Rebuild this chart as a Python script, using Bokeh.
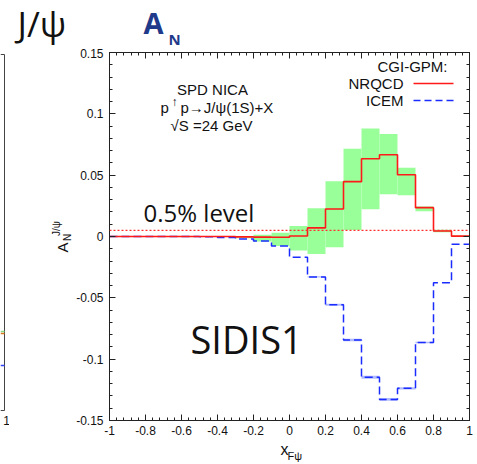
from bokeh.plotting import figure
from bokeh.models import (Range1d, LinearAxis, FixedTicker, CustomJSTickFormatter,
                          Label, Span)
from bokeh.layouts import column, row
from bokeh.embed import file_html
from bokeh.resources import INLINE

# ---------------- data ----------------
bin_edges = [-1.0, -0.9, -0.8, -0.7, -0.6, -0.5, -0.4, -0.3, -0.2, -0.1, 0.0,
             0.1, 0.2, 0.3, 0.4, 0.5, 0.6, 0.7, 0.8, 0.9, 1.0]
nrqcd = [0.0, 0.0, 0.0, 0.0, 0.0, 0.0, 0.0, -0.0003, -0.0005, -0.0006, 0.0004,
         0.007, 0.0224, 0.0447, 0.0634, 0.0667, 0.0504, 0.0235, 0.0045, 0.0003]
nrqcd_lo = [0.0, 0.0, 0.0, 0.0, 0.0, 0.0, 0.0, -0.0015, -0.004, -0.0077, -0.0114,
            -0.0143, -0.0088, 0.0053, 0.0222, 0.0344, 0.0336, 0.0205, 0.0035, -0.0002]
nrqcd_hi = [0.0, 0.0, 0.0, 0.0, 0.0, 0.0, 0.0, 0.0005, 0.0015, 0.003, 0.0086,
            0.023, 0.045, 0.0716, 0.088, 0.0836, 0.056, 0.0245, 0.0055, 0.0008]
icem = [0.0, 0.0, 0.0, 0.0, 0.0, -0.0003, -0.0008, -0.002, -0.0037, -0.0077, -0.017,
        -0.033, -0.0556, -0.0844, -0.1148, -0.1328, -0.1238, -0.0864, -0.0377, -0.0064]
icem_err = [0.0, 0.0, 0.0, 0.0, 0.0, 0.0, 0.0, 0.0, 0.0, 0.0, 0.0,
            0.0005, 0.0008, 0.001, 0.0012, 0.0012, 0.001, 0.0006, 0.0, 0.0]
level = 0.005
x_ticks = [-1, -0.8, -0.6, -0.4, -0.2, 0, 0.2, 0.4, 0.6, 0.8, 1]
y_ticks = [-0.15, -0.1, -0.05, 0, 0.05, 0.1, 0.15]

# ---------------- layout geometry (page pixels) ----------------
W, H = 477, 464
TOP_H, BOT_H, LEFT_W = 48, 22, 9
FL, FT, FR, FB = 109, 52, 469, 420   # frame edges on the page
MAIN_H = H - TOP_H - BOT_H

def px(xp):
    return (xp - FL) / (FR - FL) * 2.0 - 1.0

def py(yp):
    return 0.15 - (yp - FT) / (FB - FT) * 0.3

def blank_fig(width, height, x0, x1, y0, y1):
    f = figure(frame_width=width, frame_height=height, x_range=Range1d(x0, x1),
               y_range=Range1d(y1, y0), output_backend="svg", toolbar_location=None,
               x_axis_type=None, y_axis_type=None, min_border=0, title=None)
    f.grid.visible = False
    f.outline_line_color = None
    return f

def lab(fig, text, x, y, size, font="Liberation Sans", align="left",
        color="#111111", style="normal", angle=0, place="center"):
    # y is the vertical centre of the text
    fig.add_layout(Label(x=x, y=y, text=text, text_font=font,
                         text_font_size=f"{size}px", text_align=align,
                         text_baseline="middle", text_color=color,
                         text_font_style=style, angle=angle), place)

# ---------------- main plot ----------------
p = figure(width=W - LEFT_W, height=MAIN_H, x_range=Range1d(-1, 1),
           y_range=Range1d(-0.15, 0.15), output_backend="svg", toolbar_location=None,
           min_border_left=FL - LEFT_W, min_border_right=W - FR,
           min_border_top=FT - TOP_H, min_border_bottom=H - BOT_H - FB, title=None)
p.grid.visible = False
p.outline_line_color = "#222222"

fmt = CustomJSTickFormatter(code="return String(Math.round(tick*100)/100);")
blank = CustomJSTickFormatter(code="return '';")
x_minor = [round(-1 + 0.04 * i, 2) for i in range(51)]
y_minor = [round(-0.15 + 0.01 * i, 2) for i in range(31)]
xt = FixedTicker(ticks=x_ticks, minor_ticks=x_minor)
yt = FixedTicker(ticks=y_ticks, minor_ticks=y_minor)

def style_axis(ax, show_labels):
    ax.major_tick_in = 6
    ax.major_tick_out = 0
    ax.minor_tick_in = 3
    ax.minor_tick_out = 0
    ax.axis_line_color = "#222222"
    ax.major_tick_line_color = "#222222"
    ax.minor_tick_line_color = "#222222"
    ax.major_label_text_font = "Liberation Sans"
    ax.major_label_text_font_size = "12px"
    if show_labels:
        ax.major_label_text_color = "#111111"
        ax.major_label_standoff = 6
        ax.formatter = fmt
    else:
        ax.major_label_text_color = None
        ax.major_label_standoff = 0
        ax.formatter = blank

p.xaxis.ticker = xt
p.yaxis.ticker = yt
style_axis(p.xaxis[0], True)
style_axis(p.yaxis[0], True)
p.xaxis.major_label_standoff = 5
ax_top = LinearAxis(ticker=xt)
style_axis(ax_top, False)
p.add_layout(ax_top, "above")
ax_right = LinearAxis(ticker=yt)
style_axis(ax_right, False)
p.add_layout(ax_right, "right")

left = bin_edges[:-1]
right = bin_edges[1:]
p.quad(left=left, right=right, bottom=nrqcd_lo, top=nrqcd_hi,
       fill_color="#99ff99", line_color=None)
p.quad(left=left, right=right,
       bottom=[v - e for v, e in zip(icem, icem_err)],
       top=[v + e for v, e in zip(icem, icem_err)],
       fill_color="#8f9dff", fill_alpha=0.7, line_color=None)

p.add_layout(Span(location=level, dimension="width", line_color="#ff3030",
                  line_width=1.2, line_dash="2 2"))

p.step(x=bin_edges, y=icem + [icem[-1]], mode="after", line_color="#1a2cff",
       line_width=1.5, line_dash="8 4")
p.step(x=bin_edges, y=nrqcd + [nrqcd[-1]], mode="after", line_color="#ff1a1a",
       line_width=1.6)

# legend drawn by hand (labels left of the samples)
p.line(x=[px(413), px(453)], y=[py(83), py(83)], line_color="#ff1a1a", line_width=1.5)
p.line(x=[px(413), px(453)], y=[py(100), py(100)], line_color="#1a2cff", line_width=1.5,
       line_dash="7 4")

def mlab(text, x, y, size, **kw):
    lab(p, text, px(x), py(y), size, **kw)

mlab("CGI-GPM:", 447, 66, 15, align="right")
mlab("NRQCD", 403, 83, 15, align="right")
mlab("ICEM", 403, 100, 15, align="right")

mlab("SPD NICA", 212, 89, 15, align="center")
mlab("p", 160, 106.5, 15)
mlab("\u2191", 171, 101, 12)
mlab("p\u2192J/\u03c8(1S)+X", 180, 106.5, 15)
mlab("\u221aS =24 GeV", 170, 124.5, 15)

mlab("0.5% level", 143, 211.5, 24, font="Open Sans")
mlab("SIDIS1", 190, 338.5, 38, font="Open Sans")

# y-axis title A_N^{J/psi} (in the left side panel, so it is not clipped)
mlab("A", 62, 247, 15, align="center", angle=1.5708, place="left")
mlab("N", 67, 237, 10, align="center", angle=1.5708, place="left")
mlab("J/\u03c8", 56, 228, 10, align="center", angle=1.5708, place="left")

# ---------------- top strip: titles ----------------
top = blank_fig(W, TOP_H, 0, W, 0, TOP_H)
lab(top, "J/\u03c8", 17, 22.5, 35, font="Open Sans")
lab(top, "A", 143, 21.5, 29, font="Open Sans", style="bold", color="#1f3a8a")
lab(top, "N", 168, 38.5, 15, font="Open Sans", style="bold", color="#1f3a8a")

# ---------------- bottom strip: x-axis title ----------------
bot = blank_fig(W, BOT_H, 0, W, H - BOT_H, H)
lab(bot, "x", 280, 449, 16)
lab(bot, "F\u03c8", 287, 455.5, 11)

# ---------------- left strip: edge of the neighbouring panel ----------------
edge = blank_fig(LEFT_W, MAIN_H, 0, LEFT_W, TOP_H, TOP_H + MAIN_H)
edge.line(x=[0, 4, 4, 0], y=[50, 50, 406, 406], line_color="#444444", line_width=1)
edge.line(x=[0, 4], y=[327, 327], line_color="#88dd88", line_width=1.5)
edge.line(x=[0, 4], y=[329, 329], line_color="#dd7722", line_width=1.5)
edge.line(x=[0, 4], y=[361, 361], line_color="#3344ff", line_width=1.5)
lab(edge, "1", 6, 416, 12, align="center")

layout = column(top, row(edge, p), bot)
open("out.html", "w").write(file_html(layout, INLINE))
